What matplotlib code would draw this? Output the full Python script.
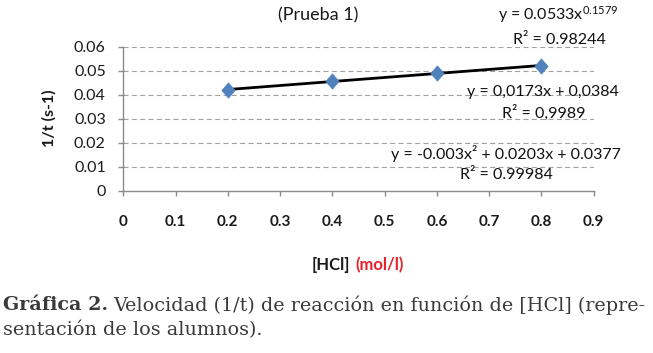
import matplotlib
matplotlib.use("Agg")
import matplotlib.pyplot as plt
from matplotlib.path import Path
import numpy as np

hcl = [0.2, 0.4, 0.6, 0.8]
rate = [0.0420, 0.0457, 0.0489, 0.0521]
xticks = [0, 0.1, 0.2, 0.3, 0.4, 0.5, 0.6, 0.7, 0.8, 0.9]
yticks = [0, 0.01, 0.02, 0.03, 0.04, 0.05, 0.06]

W, H = 653, 353
fig = plt.figure(figsize=(W / 100, H / 100), dpi=100)
plt.rcParams['font.family'] = ['Lato', 'DejaVu Sans']
plt.rcParams['mathtext.fontset'] = 'custom'
plt.rcParams['mathtext.rm'] = 'Lato'
plt.rcParams['mathtext.it'] = 'Lato:italic'
plt.rcParams['mathtext.bf'] = 'Lato:bold'

def P(x, y):
    return x / W, 1 - y / H

L, R, T, B = 123.3, 593.7, 46.7, 190.7
ax = fig.add_axes([L / W, 1 - B / H, (R - L) / W, (B - T) / H])
ax.set_xlim(0, 0.9)
ax.set_ylim(0, 0.06)
for s in ['top', 'right']:
    ax.spines[s].set_visible(False)
for s in ['bottom', 'left']:
    ax.spines[s].set_color('#8a8a8a')
    ax.spines[s].set_linewidth(1.0)
ax.set_xticks(xticks)
ax.set_xticklabels([f"{v:g}" for v in xticks], fontsize=11, fontweight='bold', color='#1a1a1a')
ax.set_yticks(yticks)
ax.set_yticklabels([f"{v:g}" for v in yticks], fontsize=11.5, color='#1a1a1a')
ax.tick_params(axis='x', direction='out', length=3.6, width=1.0, color='#8a8a8a', pad=14)
ax.tick_params(axis='y', direction='out', length=3.6, width=1.0, color='#8a8a8a', pad=9)
for v in yticks[1:]:
    ax.axhline(v, color='#a0a0a0', linestyle=(0, (4.5, 3)), linewidth=0.8, zorder=1)

fit = np.polyfit(hcl, rate, 1)
xs = np.array([hcl[0], hcl[-1]])
ax.plot(xs, np.polyval(fit, xs), color='black', linewidth=2.0, zorder=2)
diamond = Path([(0, 1), (0.87, 0), (0, -1), (-0.87, 0), (0, 1)],
               [Path.MOVETO, Path.LINETO, Path.LINETO, Path.LINETO, Path.CLOSEPOLY])
ax.plot(hcl, rate, linestyle='none', marker=diamond, markersize=11, color='#4F81BD',
        markeredgecolor='#4F81BD', markeredgewidth=0.5, zorder=3)

fig.text(*P(49, 118), '1/t (s-1)', fontsize=11.5, fontweight='bold', rotation=90,
         ha='center', va='center', color='#1a1a1a')

fig.text(*P(318, 15), '(Prueba 1)', fontsize=13, ha='center', va='center', color='#1a1a1a')

fig.text(*P(350, 265), '[HCl]', fontsize=12, fontweight='bold', ha='right', va='center',
         color='#1a1a1a')
fig.text(*P(355, 265), '(mol/l)', fontsize=12, fontweight='bold', ha='left', va='center',
         color='#e8202a')

ann = dict(fontsize=11.5, ha='center', va='center', color='#111111')
fig.text(*P(558, 15), r'y = 0.0533x$^{0.1579}$', **ann)
fig.text(*P(559, 40), 'R² = 0.98244', **ann)
fig.text(*P(543, 92), 'y = 0,0173x + 0,0384', **ann)
fig.text(*P(544, 113), 'R² = 0,9989', **ann)
fig.text(*P(506, 153), 'y = -0.003x² + 0.0203x + 0.0377', **ann)
fig.text(*P(506, 175), 'R² = 0.99984', **ann)

# caption, sized so the first line spans the reference width
fs = 14.0
renderer = fig.canvas.get_renderer()
for _ in range(3):
    cap = dict(fontsize=fs, color='#3a3a3a', family='DejaVu Serif', va='center')
    t1 = fig.text(*P(3, 305), 'Gráfica 2.', fontweight='bold', ha='left', **cap)
    bb = t1.get_window_extent(renderer)
    t2 = fig.text((bb.x1 + 0.4 * fs) / W, 1 - 305 / H,
                  'Velocidad (1/t) de reacción en función de [HCl] (repre-', ha='left', **cap)
    right = t2.get_window_extent(renderer).x1
    if right <= 649:
        break
    t1.remove(); t2.remove()
    fs = fs * (646 - 3) / (right - 3)
fig.text(*P(3, 330), 'sentación de los alumnos).', ha='left', **cap)

fig.savefig('out.png', dpi=100)
